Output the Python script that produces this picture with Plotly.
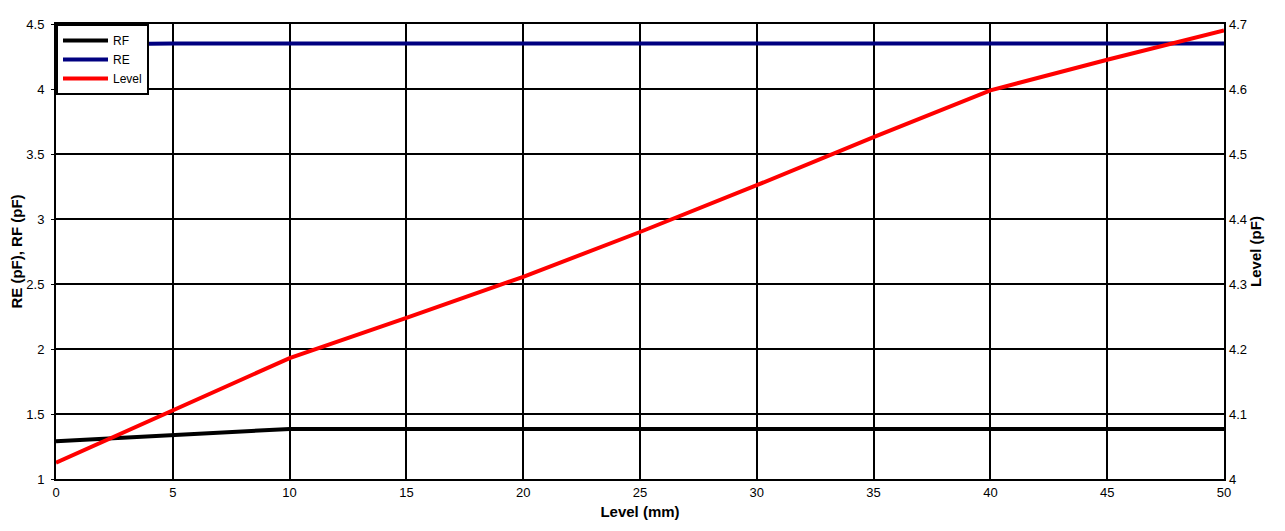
import plotly.graph_objects as go

# values
level_mm = [0, 5, 10, 15, 20, 25, 30, 35, 40, 45, 50]
rf_pf = [1.29, 1.34, 1.385, 1.385, 1.385, 1.385, 1.385, 1.385, 1.385, 1.385, 1.385]
re_pf = [4.34, 4.35, 4.35, 4.35, 4.35, 4.35, 4.35, 4.35, 4.35, 4.35, 4.35]
level_pf = [4.025, 4.105, 4.186, 4.248, 4.311, 4.380, 4.452, 4.526, 4.598, 4.645, 4.69]

FONT = "Liberation Sans, Arial, sans-serif"

fig = go.Figure()
fig.add_trace(go.Scatter(x=level_mm, y=rf_pf, name="RF", mode="lines",
                         line=dict(color="#000000", width=4)))
fig.add_trace(go.Scatter(x=level_mm, y=re_pf, name="RE", mode="lines",
                         line=dict(color="#000080", width=4)))
fig.add_trace(go.Scatter(x=level_mm, y=level_pf, name="Level", mode="lines",
                         line=dict(color="#ff0000", width=4), yaxis="y2"))

# the page body adds an 8px margin, so the figure is sized to fit inside it
fig.update_layout(
    width=1277, height=523,
    margin=dict(l=48, r=61, t=16, b=52),
    paper_bgcolor="white", plot_bgcolor="white",
    font=dict(family=FONT, size=12, color="black"),
    showlegend=True,
    legend=dict(x=0, y=1, xanchor="left", yanchor="top", itemwidth=45,
                bgcolor="white", bordercolor="black", borderwidth=2,
                font=dict(size=12), tracegroupgap=0),
    xaxis=dict(range=[0, 50], dtick=5, showgrid=True, gridcolor="black", gridwidth=2,
               showline=True, linecolor="black", linewidth=2, mirror=True,
               zeroline=False, ticks="", tickfont=dict(size=13), automargin=False,
               ticklabelstandoff=0,
               title=dict(text="<b>Level (mm)</b>", font=dict(size=15), standoff=8)),
    yaxis=dict(range=[1, 4.5], dtick=0.5, showgrid=True, gridcolor="black", gridwidth=2,
               showline=True, linecolor="black", linewidth=2, mirror=True,
               zeroline=False, ticks="outside", ticklen=3, tickcolor="black",
               tickfont=dict(size=13), automargin=False, ticklabelstandoff=4,
               title=dict(text="<b>RE (pF), RF (pF)</b>", font=dict(size=15), standoff=14)),
    yaxis2=dict(range=[4, 4.7], dtick=0.1, overlaying="y", side="right",
                showgrid=False, zeroline=False, showline=False, automargin=False,
                ticks="", tickfont=dict(size=13), ticklabelstandoff=4,
                title=dict(text="<b>Level (pF)</b>", font=dict(size=15), standoff=4)),
)

fig.write_html("out.html")
